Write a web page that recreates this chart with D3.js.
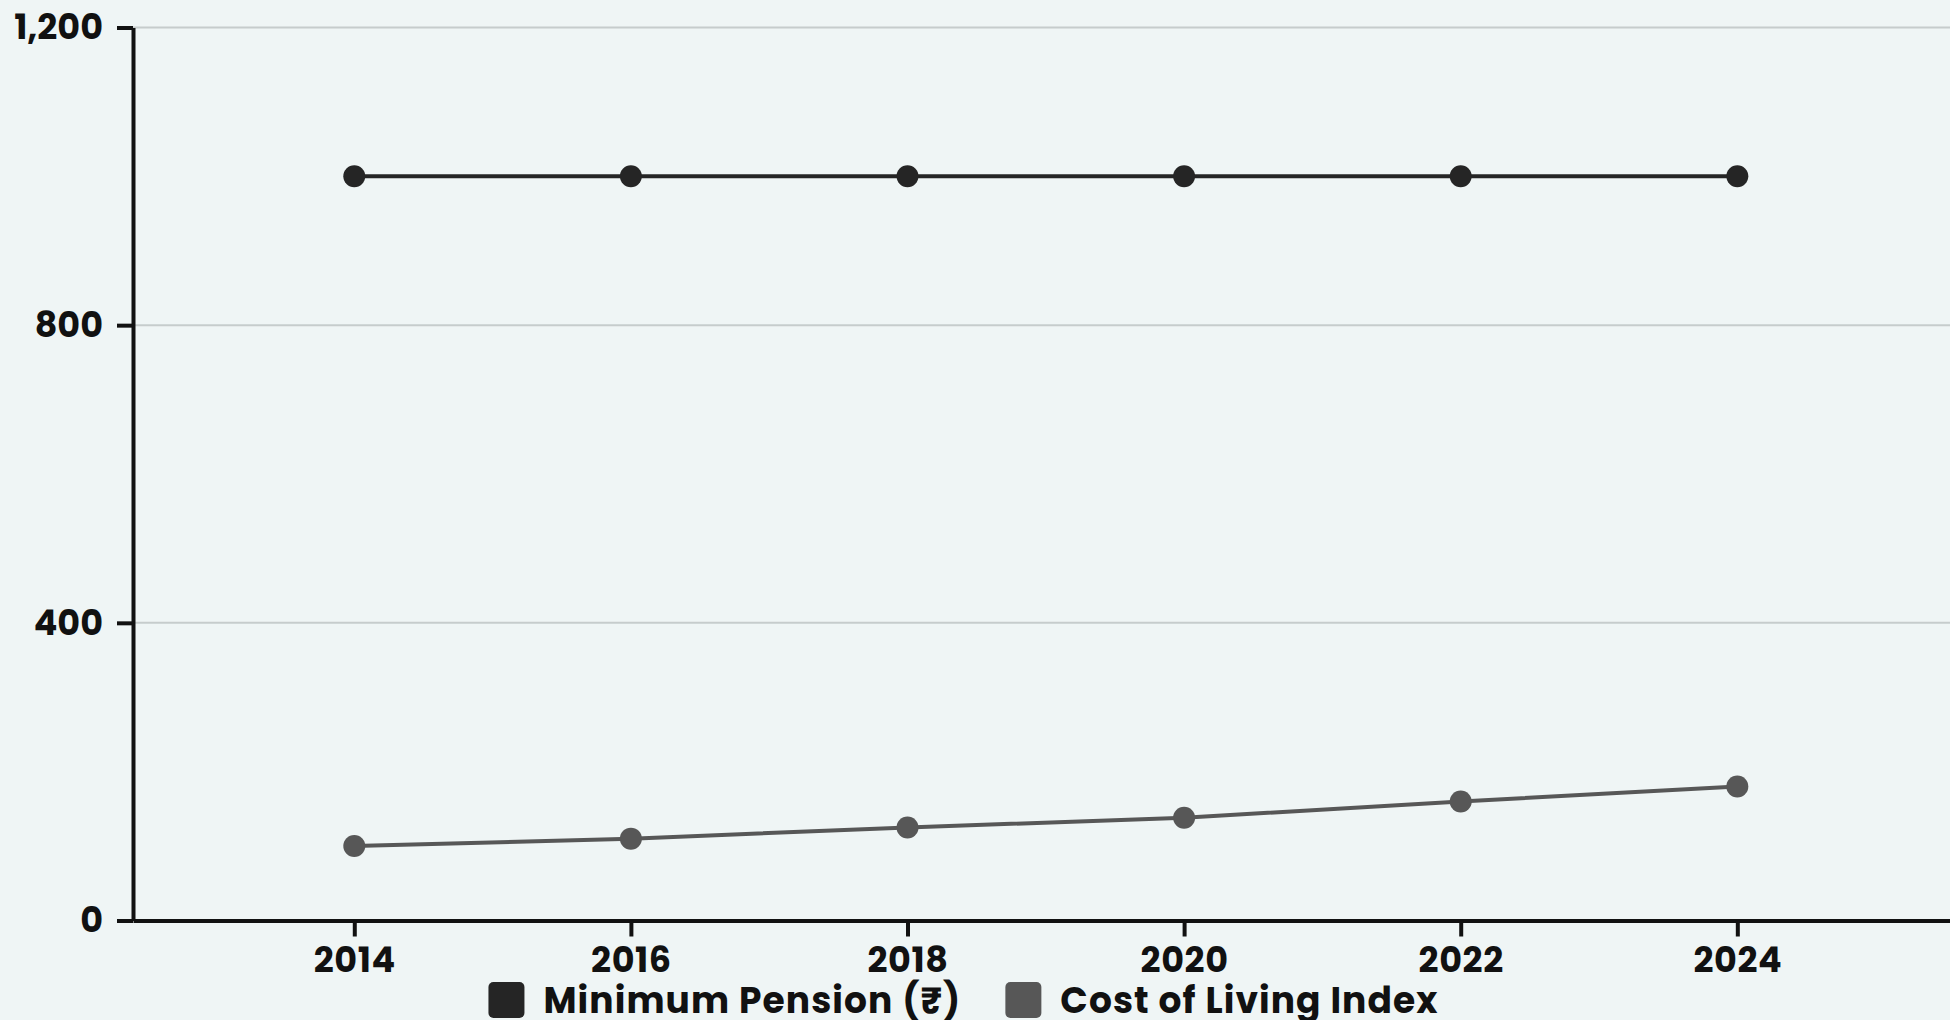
<!DOCTYPE html>
<html>
<head>
<meta charset="utf-8">
<script src="https://cdn.jsdelivr.net/npm/d3@7"></script>
<style>
  html, body { margin: 0; padding: 0; background: #eff5f5; overflow: hidden; }
  svg { display: block; }
  .tick text, .legend text { font-family: Poppins, Inter, "Noto Sans", sans-serif; font-weight: 700; fill: #111; }
  .legend text { letter-spacing: 1.1px; }
</style>
</head>
<body>
<svg id="chart" width="1950" height="1020"></svg>
<script>
// Pension vs. cost of living, 2014–2024
const years = [2014, 2016, 2018, 2020, 2022, 2024];
const minimumPension = [1000, 1000, 1000, 1000, 1000, 1000];
const costOfLiving = [100, 110, 125, 138, 160, 180];
const seriesNames = ["Minimum Pension (₹)", "Cost of Living Index"];
const seriesColors = ["#252525", "#575757"];
const yTickValues = [0, 400, 800, 1200];

const W = 1950, H = 1020;
const margin = { left: 133, top: 27.5, bottom: 99.5 };
const svg = d3.select("#chart");

svg.append("rect").attr("width", W).attr("height", H).attr("fill", "#eff5f5");

const x = d3.scaleLinear().domain([2012.4, 2025.6]).range([margin.left, 1958.6]);
const y = d3.scaleLinear().domain([0, 1200]).range([H - margin.bottom, margin.top]);

// horizontal grid lines
svg.append("g")
  .selectAll("line")
  .data(yTickValues.filter(v => v > 0))
  .join("line")
  .attr("x1", margin.left).attr("x2", W)
  .attr("y1", d => y(d)).attr("y2", d => y(d))
  .attr("stroke", "#c6cccc").attr("stroke-width", 2);

const fontSize = 35;

// axes
const xAxis = svg.append("g")
  .attr("transform", `translate(0,${y(0)})`)
  .call(d3.axisBottom(x).tickValues(years).tickFormat(d3.format("d"))
    .tickSize(16).tickSizeOuter(0).tickPadding(11));
const yAxis = svg.append("g")
  .attr("transform", `translate(${margin.left},0)`)
  .call(d3.axisLeft(y).tickValues(yTickValues).tickFormat(d3.format(","))
    .tickSize(16).tickSizeOuter(0).tickPadding(14));

[xAxis, yAxis].forEach(g => {
  g.select(".domain").attr("stroke", "#111").attr("stroke-width", 4);
  g.selectAll(".tick line").attr("stroke", "#111").attr("stroke-width", 4);
  g.selectAll(".tick text").style("font-size", fontSize + "px");
});
xAxis.selectAll(".tick text").style("letter-spacing", "0.6px");

// series lines and markers
const series = [minimumPension, costOfLiving];
const line = d3.line().x((d, i) => x(years[i])).y(d => y(d));

series.forEach((vals, s) => {
  svg.append("path")
    .datum(vals)
    .attr("d", line)
    .attr("fill", "none")
    .attr("stroke", seriesColors[s])
    .attr("stroke-width", 4);
  svg.append("g")
    .selectAll("circle")
    .data(vals)
    .join("circle")
    .attr("cx", (d, i) => x(years[i]))
    .attr("cy", d => y(d))
    .attr("r", 11)
    .attr("fill", seriesColors[s]);
});

// legend below the axis
const legend = svg.append("g").attr("class", "legend");
const sw = 36, gapText = 19, gapItem = 44;
let cursor = 0;
seriesNames.forEach((name, i) => {
  const g = legend.append("g");
  g.append("rect").attr("x", 0).attr("y", 982).attr("width", sw).attr("height", sw)
    .attr("rx", 5).attr("fill", seriesColors[i]);
  const t = g.append("text").attr("x", sw + gapText).attr("y", 1012.5)
    .style("font-size", (fontSize + 1) + "px").text(name);
  const w = sw + gapText + t.node().getComputedTextLength();
  g.attr("transform", `translate(${cursor},0)`);
  cursor += w + gapItem;
});
const total = cursor - gapItem;
legend.attr("transform", `translate(${963.5 - total / 2},0)`);
</script>
</body>
</html>
